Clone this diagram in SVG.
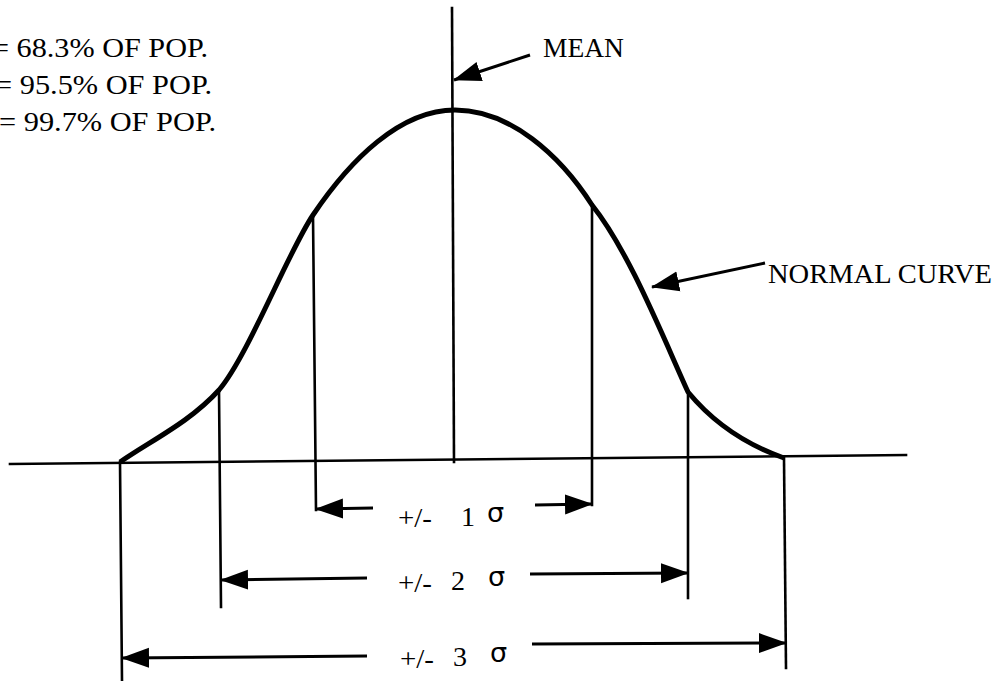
<svg xmlns="http://www.w3.org/2000/svg" width="1007" height="681" viewBox="0 0 1007 681">
<style>
text{font-family:"Liberation Serif","Times New Roman",serif;fill:#000}
.t{font-size:28px}
.sig{font-family:"DejaVu Sans",sans-serif;font-size:27px}
.ln{stroke:#000;stroke-width:2.6;fill:none;stroke-linecap:square}
.ar{stroke:#000;stroke-width:3;fill:none;marker-end:url(#ah)}
.cv{stroke:#000;stroke-width:5;fill:none;stroke-linejoin:round}
</style>
<defs>
<marker id="ah" markerUnits="userSpaceOnUse" markerWidth="28" markerHeight="22" viewBox="0 0 28 22" refX="27" refY="11" orient="auto">
<path d="M0,1 L28,11 L0,21 z" fill="#000"/>
</marker>
</defs>
<rect width="1007" height="681" fill="#fff"/>
<g id="legend">
<text class="t" x="-8" y="57" textLength="216" lengthAdjust="spacingAndGlyphs">= 68.3% OF POP.</text>
<text class="t" x="-5" y="94" textLength="217" lengthAdjust="spacingAndGlyphs">= 95.5% OF POP.</text>
<text class="t" x="-1" y="131" textLength="217" lengthAdjust="spacingAndGlyphs">= 99.7% OF POP.</text>
</g>
<g id="axis">
<line class="ln" x1="10" y1="464" x2="906" y2="455"/>
</g>
<g id="curve">
<path class="cv" d="M120,462 C152,440 190,422 219,390 C248,356 288,252 313,215 C350,160 400,110 455,110 C510,110 560,155 592,205 C628,250 660,330 688,392 C716,426 750,446 784,458"/>
</g>
<g id="verticals">
<line class="ln" x1="452" y1="8" x2="454" y2="462"/>
<line class="ln" x1="313" y1="215" x2="316" y2="510"/>
<line class="ln" x1="592" y1="205" x2="592" y2="505"/>
<line class="ln" x1="219" y1="390" x2="221" y2="607"/>
<line class="ln" x1="688" y1="392" x2="688" y2="598"/>
<line class="ln" x1="120" y1="462" x2="122" y2="681"/>
<line class="ln" x1="784" y1="458" x2="786" y2="668"/>
</g>
<g id="connectors">
<line class="ar" x1="530" y1="55" x2="454" y2="80"/>
<line class="ar" x1="765" y1="263" x2="652" y2="287"/>
<line class="ar" x1="373" y1="508" x2="316" y2="509"/>
<line class="ar" x1="535" y1="505" x2="592" y2="504"/>
<line class="ar" x1="367" y1="578" x2="221" y2="580"/>
<line class="ar" x1="530" y1="574" x2="688" y2="573"/>
<line class="ar" x1="367" y1="656" x2="122" y2="658"/>
<line class="ar" x1="532" y1="644" x2="786" y2="643"/>
</g>
<g id="label-mean">
<text class="t" x="543" y="57" textLength="81" lengthAdjust="spacingAndGlyphs">MEAN</text>
</g>
<g id="label-normal">
<text class="t" x="768" y="283" textLength="224" lengthAdjust="spacingAndGlyphs">NORMAL CURVE</text>
</g>
<g id="range1">
<text class="t"><tspan x="398" y="527" textLength="34" lengthAdjust="spacingAndGlyphs">+/-</tspan><tspan x="461" y="526">1</tspan><tspan class="sig" x="487" y="522">σ</tspan></text>
</g>
<g id="range2">
<text class="t"><tspan x="398" y="592" textLength="34" lengthAdjust="spacingAndGlyphs">+/-</tspan><tspan x="451" y="590">2</tspan><tspan class="sig" x="488" y="586">σ</tspan></text>
</g>
<g id="range3">
<text class="t"><tspan x="400" y="668" textLength="34" lengthAdjust="spacingAndGlyphs">+/-</tspan><tspan x="453" y="666">3</tspan><tspan class="sig" x="490" y="662">σ</tspan></text>
</g>
</svg>
